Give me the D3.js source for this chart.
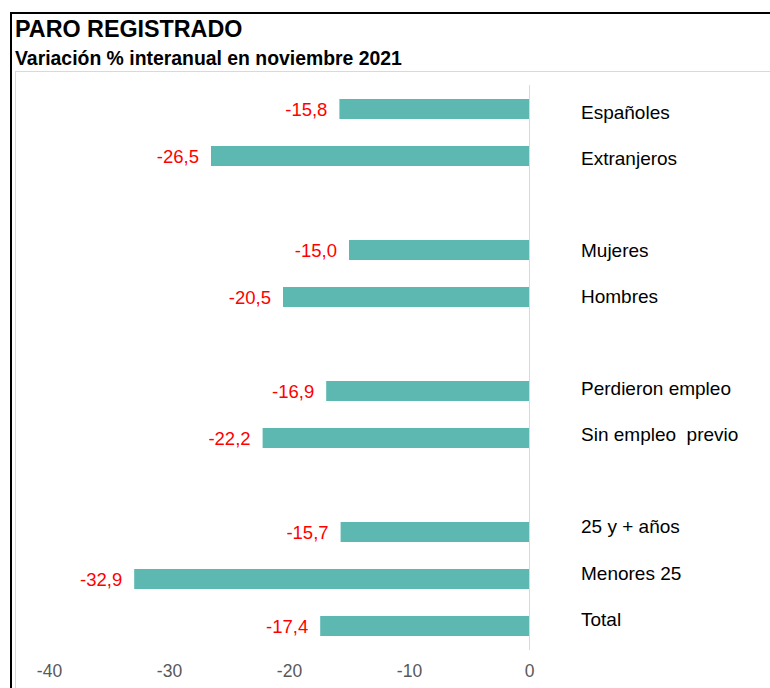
<!DOCTYPE html>
<html><head><meta charset="utf-8">
<script src="https://cdn.jsdelivr.net/npm/d3@7"></script>
<style>body{margin:0;background:#fff;font-family:"Liberation Sans",Arial,sans-serif}</style>
</head><body>
<svg id="c" width="770" height="688"></svg>
<script>
const categories = ["Españoles","Extranjeros","","Mujeres","Hombres","","Perdieron empleo","Sin empleo  previo","","25 y + años","Menores 25","Total"];
const values = [-15.8,-26.5,null,-15.0,-20.5,null,-16.9,-22.2,null,-15.7,-32.9,-17.4];
const tickValues = [-40,-30,-20,-10,0];

const svg = d3.select("#c");
// outer frame
svg.append("rect").attr("x",11).attr("y",13).attr("width",800).attr("height",700)
  .attr("fill","none").attr("stroke","#000").attr("stroke-width",2);
// inner plot area
svg.append("rect").attr("x",15.5).attr("y",71.5).attr("width",800).attr("height",700)
  .attr("fill","none").attr("stroke","#d9d9d9").attr("stroke-width",1);

svg.append("text").attr("x",15).attr("y",37).text("PARO REGISTRADO")
  .attr("font-weight","bold").attr("font-size",23.3).attr("fill","#000");
svg.append("text").attr("x",15).attr("y",65).text("Variación % interanual en noviembre 2021")
  .attr("font-weight","bold").attr("font-size",19.4).attr("fill","#000");

const x = d3.scaleLinear().domain([-40,0]).range([49,529]);
const y = d3.scaleBand().domain(d3.range(categories.length)).range([85.5,649.5]).paddingInner(0.574).paddingOuter(0.287);
// category label positions (slightly different spacing, as in the source)
const yl = d3.scalePoint().domain(d3.range(categories.length)).range([112,619]);

const rows = categories.map((c,i)=>({c,v:values[i],i}));
const g = svg.append("g");
g.selectAll("rect.bar").data(rows.filter(d=>d.v!==null)).join("rect")
  .attr("class","bar")
  .attr("x",d=>x(d.v)).attr("width",d=>x(0)-x(d.v))
  .attr("y",d=>y(d.i)).attr("height",y.bandwidth())
  .attr("fill","#5db8b2");

g.append("line").attr("x1",x(0)+0.5).attr("x2",x(0)+0.5).attr("y1",85).attr("y2",650)
  .attr("stroke","#d9d9d9").attr("stroke-width",1);

g.selectAll("text.val").data(rows.filter(d=>d.v!==null)).join("text")
  .attr("class","val")
  .attr("x",d=>x(d.v)-12).attr("y",d=>y(d.i)+y.bandwidth()/2+1).attr("dy","0.35em")
  .attr("text-anchor","end").attr("font-size",18.5).attr("fill","#ff0000")
  .text(d=>d3.format(".1f")(d.v).replace("−","-").replace(".",","));

g.selectAll("text.cat").data(rows.filter(d=>d.c!=="")).join("text")
  .attr("class","cat")
  .attr("x",581).attr("y",d=>yl(d.i)).attr("dy","0.35em")
  .attr("font-size",19).attr("fill","#000").attr("xml:space","preserve")
  .style("white-space","pre")
  .text(d=>d.c);

const axis = d3.axisBottom(x).tickValues(tickValues).tickSize(0).tickPadding(0)
  .tickFormat(d=>String(d));
const ax = svg.append("g").attr("transform","translate(0,665)").call(axis);
ax.select(".domain").remove();
ax.selectAll("text").attr("font-size",17.5).attr("fill","#595959")
  .attr("font-family","'Liberation Sans',Arial,sans-serif");
</script>
</body></html>
